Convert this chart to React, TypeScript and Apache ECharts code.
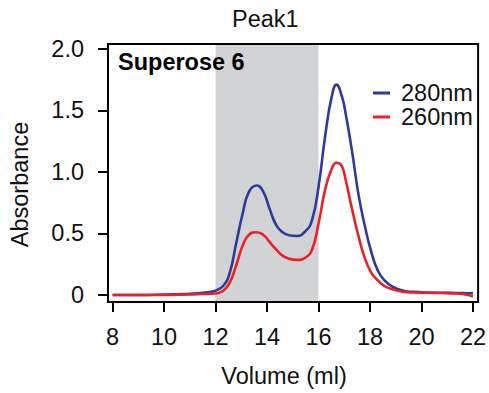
import React, { useEffect, useRef } from "react";
import * as echarts from "echarts";

const volumes = [8, 9, 10, 10.5, 11, 11.5, 12, 12.3, 12.55, 12.8, 13.05, 13.3, 13.6, 13.85, 14.1, 14.35, 14.6, 14.85, 15.15, 15.5, 15.75, 16.0, 16.25, 16.5, 16.7, 16.9, 17.05, 17.3, 17.55, 17.8, 18.05, 18.3, 18.55, 18.9, 19.3, 19.7, 20.2, 20.8, 21.4, 21.8, 22];
const abs280 = [0, 0, 0.003, 0.006, 0.01, 0.018, 0.035, 0.075, 0.18, 0.42, 0.66, 0.84, 0.89, 0.84, 0.70, 0.57, 0.51, 0.485, 0.48, 0.52, 0.61, 0.88, 1.28, 1.60, 1.71, 1.62, 1.48, 1.17, 0.82, 0.56, 0.35, 0.20, 0.12, 0.065, 0.035, 0.025, 0.02, 0.018, 0.016, 0.014, 0.015];
const abs260 = [0, 0, 0, 0.002, 0.004, 0.008, 0.012, 0.035, 0.10, 0.24, 0.40, 0.49, 0.51, 0.49, 0.43, 0.37, 0.32, 0.295, 0.285, 0.305, 0.37, 0.58, 0.85, 1.02, 1.075, 1.05, 0.94, 0.70, 0.48, 0.30, 0.18, 0.12, 0.075, 0.045, 0.025, 0.02, 0.018, 0.016, 0.012, 0.0, -0.012];
const xTicks = [8, 10, 12, 14, 16, 18, 20, 22];
const yTicks = [0, 0.5, 1.0, 1.5, 2.0];
const shadedRange = [12, 16];
const seriesNames = ["280nm", "260nm"];

const FONT = "Liberation Sans, Arial, Helvetica, sans-serif";
const FS = 23.5;

export default function App() {
  const ref = useRef<HTMLDivElement>(null);
  useEffect(() => {
    if (!ref.current) return;
    const chart = echarts.init(ref.current, null, { renderer: "svg" });
    chart.setOption({
      animation: false,
      textStyle: { fontFamily: FONT },
      title: [
        {
          text: "Peak1",
          left: 232,
          top: 7,
          padding: 0,
          textStyle: { fontSize: FS, fontWeight: "normal", color: "#111", fontFamily: FONT },
        },
        {
          text: "Superose 6",
          left: 118,
          top: 50,
          padding: 0,
          textStyle: { fontSize: FS, fontWeight: "bold", color: "#000", fontFamily: FONT },
        },
      ],
      legend: {
        orient: "vertical",
        left: 373,
        top: 81,
        padding: 0,
        itemWidth: 17,
        itemHeight: 3,
        itemGap: 0,
        icon: "rect",
        textStyle: { fontSize: FS, color: "#111", fontFamily: FONT, lineHeight: 23, padding: [0, 0, 0, 6] },
        data: seriesNames,
      },
      grid: {
        left: 106,
        right: 7,
        top: 44,
        bottom: 90,
        show: true,
        borderColor: "#000",
        borderWidth: 2,
        z: 5,
      },
      xAxis: {
        type: "value",
        min: 7.82,
        max: 22.2,
        name: "Volume (ml)",
        nameLocation: "middle",
        nameGap: 62,
        nameTextStyle: { fontSize: FS, color: "#111", fontFamily: FONT, padding: [0, 18, 0, 0] },
        splitLine: { show: false },
        axisLine: { show: false, onZero: false },
        axisTick: { show: true, customValues: xTicks, length: 10, lineStyle: { width: 2, color: "#000" } },
        axisLabel: { customValues: xTicks, margin: 23, fontSize: FS, color: "#111", fontFamily: FONT },
      },
      yAxis: {
        type: "value",
        min: -0.057,
        max: 2.04,
        name: "Absorbance",
        nameLocation: "middle",
        nameGap: 76,
        nameTextStyle: { fontSize: FS, color: "#111", fontFamily: FONT, padding: [0, 23, 0, 0] },
        splitLine: { show: false },
        axisLine: { show: false, onZero: false },
        axisTick: { show: true, customValues: yTicks, length: 10, lineStyle: { width: 2, color: "#000" } },
        axisLabel: {
          customValues: yTicks,
          margin: 24,
          fontSize: FS,
          color: "#111",
          fontFamily: FONT,
          formatter: (v: number) => (v === 0 ? "0" : v.toFixed(1)),
        },
      },
      series: [
        {
          name: seriesNames[0],
          type: "line",
          smooth: true,
          symbol: "none",
          data: volumes.map((v, i) => [v, abs280[i]]),
          lineStyle: { color: "#2d3c9a", width: 2.6 },
          itemStyle: { color: "#2d3c9a" },
          z: 3,
          markArea: {
            silent: true,
            itemStyle: { color: "#d1d3d4" },
            data: [[{ xAxis: shadedRange[0] }, { xAxis: shadedRange[1] }]],
          },
        },
        {
          name: seriesNames[1],
          type: "line",
          smooth: true,
          symbol: "none",
          data: volumes.map((v, i) => [v, abs260[i]]),
          lineStyle: { color: "#ec2128", width: 2.6 },
          itemStyle: { color: "#ec2128" },
          z: 4,
        },
      ],
    });
    return () => chart.dispose();
  }, []);
  return <div ref={ref} style={{ width: 489, height: 393, position: "absolute", left: 0, top: 0, background: "#fff" }} />;
}
